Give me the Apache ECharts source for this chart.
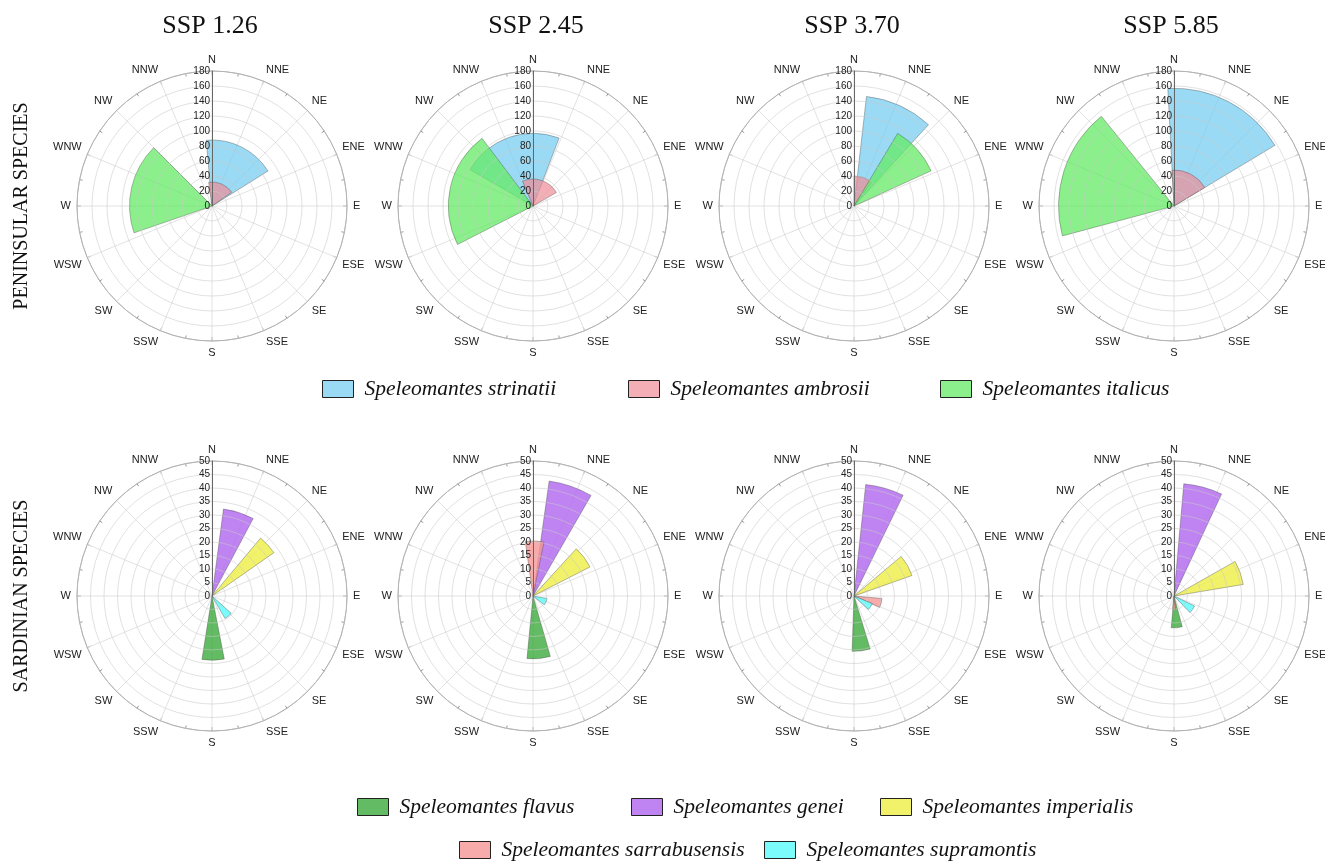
<!DOCTYPE html>
<html>
<head>
<meta charset="utf-8">
<script src="https://cdn.jsdelivr.net/npm/echarts@6/dist/echarts.min.js"></script>
<style>
html,body{margin:0;padding:0;background:#fff;}
#chart{width:1325px;height:862px;}
</style>
</head>
<body>
<div id="chart"></div>
<script>
// ---- data ----
const DIRS = ['N','NNE','NE','ENE','E','ESE','SE','SSE','S','SSW','SW','WSW','W','WNW','NW','NNW'];
const SCENARIOS = ['SSP 1.26','SSP 2.45','SSP 3.70','SSP 5.85'];
const ROW_LABELS = ['PENINSULAR SPECIES','SARDINIAN SPECIES'];
const PEN_SPECIES = ['Speleomantes strinatii','Speleomantes ambrosii','Speleomantes italicus'];
const SAR_SPECIES = ['Speleomantes flavus','Speleomantes genei','Speleomantes imperialis','Speleomantes sarrabusensis','Speleomantes supramontis'];
const PEN_RADIUS_MAX = 180, PEN_RADIUS_STEP = 20;
const SAR_RADIUS_MAX = 50, SAR_RADIUS_STEP = 5;
// each sector: [radius, start bearing (deg), end bearing (deg)], one per scenario
const strinatii     = [[88,355,58],[97,300,21],[147,6.5,42.5],[157,357,59]];
const ambrosii      = [[32,352,55],[36,337,60],[40,0,36],[48,357,59]];
const italicus      = [[110,251,315],[113,243,323],[113,31,65.5],[154,255,321]];
const flavus        = [[23.8,169,189],[23.3,164,185.5],[20.5,163,182],[11.8,165,185]];
const genei         = [[32.5,7.5,28],[43,8,30],[41.5,6,26],[41.7,5,25]];
const imperialis    = [[28,40,55],[23.7,42.5,63],[22.8,50,70.5],[26,60.5,80.5]];
const sarrabusensis = [null,[20.4,352,11.5],[10.4,95,114],[5,174,186]];
const supramontis   = [[9.6,132,150],[5.3,100,128],[7.3,112,133],[8.5,116,136]];

const PEN_DATA = [strinatii, ambrosii, italicus];
const SAR_DATA = [flavus, genei, imperialis, sarrabusensis, supramontis];
const PEN_COLORS = ['rgba(120,205,240,0.75)','rgba(240,140,150,0.7)','rgba(100,235,100,0.75)'];
const SAR_COLORS = ['rgba(60,170,60,0.8)','rgba(180,110,240,0.85)','rgba(240,240,80,0.85)','rgba(245,150,150,0.8)','rgba(100,250,250,0.85)'];

// ---- layout ----
const CX = [212, 533, 854, 1174];
const CY = [206, 596];
const R = 135;
const TITLE_X = [210, 536, 852, 1171];
// legend item placements [left, top] in the order of PEN_SPECIES then SAR_SPECIES
const PEN_LEGEND_POS = [[322,378],[628,378],[940,378]];
const SAR_LEGEND_POS = [[357,796],[631,796],[880,796],[459,839],[764,839]];

const chart = echarts.init(document.getElementById('chart'), null, {renderer:'canvas'});

function renderSector(params, api) {
  const r = api.value(0), a0 = api.value(1), a1 = api.value(2);
  const cx = params.coordSys.cx, cy = params.coordSys.cy;
  const p0 = api.coord([r, a0]);
  const p1 = api.coord([r, a1]);
  const rr = Math.hypot(p0[0]-cx, p0[1]-cy);
  let s = Math.atan2(p0[1]-cy, p0[0]-cx);
  let e = Math.atan2(p1[1]-cy, p1[0]-cx);
  if (e <= s) e += Math.PI*2;
  return {
    type:'sector',
    shape:{cx:cx, cy:cy, r0:0, r:rr, startAngle:s, endAngle:e, clockwise:true},
    style: api.style()
  };
}

const polar = [], angleAxis = [], radiusAxis = [], series = [], title = [];
const labelFont = 'Liberation Sans, Arial, sans-serif';
let pi = 0;
for (let row = 0; row < 2; row++) {
  for (let c = 0; c < 4; c++) {
    polar.push({center:[CX[c], CY[row]], radius:R});
    angleAxis.push({
      polarIndex: pi, type:'value', min:0, max:360, interval:22.5, startAngle:90, clockwise:true, z:0,
      axisLine:{show:true, lineStyle:{color:'#9a9a9a', width:1}},
      axisTick:{show:true, inside:true, length:4, lineStyle:{color:'#9a9a9a'}},
      minorTick:{show:true, splitNumber:2, length:3, lineStyle:{color:'#9a9a9a'}},
      splitLine:{show:true, lineStyle:{color:'#e2e2e2', width:1}},
      axisLabel:{
        show:true, margin:6, fontSize:11, color:'#222', fontFamily:labelFont,
        formatter: function(v){ const i = Math.round(v/22.5); return i >= 16 ? '' : DIRS[i]; }
      }
    });
    const max = row === 0 ? PEN_RADIUS_MAX : SAR_RADIUS_MAX;
    const step = row === 0 ? PEN_RADIUS_STEP : SAR_RADIUS_STEP;
    radiusAxis.push({
      polarIndex: pi, type:'value', min:0, max:max, interval:step, z:5,
      axisLine:{show:true, lineStyle:{color:'#666', width:1}},
      axisTick:{show:false},
      splitLine:{show:true, lineStyle:{color:'rgba(200,200,200,0.55)', width:1}},
      axisLabel:{show:true, fontSize:10, color:'#222', fontFamily:labelFont, margin:2}
    });
    const names = row === 0 ? PEN_SPECIES : SAR_SPECIES;
    const datas = row === 0 ? PEN_DATA : SAR_DATA;
    const colors = row === 0 ? PEN_COLORS : SAR_COLORS;
    names.forEach(function(name, k){
      const d = datas[k][c];
      series.push({
        type:'custom', name:name, coordinateSystem:'polar', polarIndex:pi,
        data: d ? [d] : [],
        renderItem: renderSector,
        itemStyle:{color:colors[k], borderColor:'rgba(70,70,70,0.55)', borderWidth:0.7},
        silent:true, z:2
      });
    });
    pi++;
  }
}
SCENARIOS.forEach(function(t, c){
  title.push({text:t, left:TITLE_X[c], top:13, textAlign:'center', padding:0,
    textStyle:{fontFamily:'Liberation Serif, Times New Roman, serif', fontSize:26, fontWeight:'normal', color:'#111'}});
});

const legendText = {fontFamily:'Liberation Serif, Times New Roman, serif', fontStyle:'italic', fontSize:21.5, color:'#111', padding:[0,0,0,6]};
function legendItem(name, pos){
  return {orient:'horizontal', icon:'rect', itemWidth:31, itemHeight:17, selectedMode:false, padding:0,
    itemStyle:{borderColor:'#222', borderWidth:1}, textStyle:legendText,
    data:[name], left:pos[0], top:pos[1]};
}
const legends = [];
PEN_SPECIES.forEach(function(n,i){ legends.push(legendItem(n, PEN_LEGEND_POS[i])); });
SAR_SPECIES.forEach(function(n,i){ legends.push(legendItem(n, SAR_LEGEND_POS[i])); });

const option = {
  animation:false,
  title: title,
  polar: polar,
  angleAxis: angleAxis,
  radiusAxis: radiusAxis,
  legend: legends,
  graphic: ROW_LABELS.map(function(t, i){
    return {type:'text', x:22, y:CY[i], rotation:Math.PI/2,
      style:{text:t, fill:'#111', font:'20px "Liberation Serif", "Times New Roman", serif', textAlign:'center', textVerticalAlign:'middle'}};
  }),
  series: series
};
chart.setOption(option);
</script>
</body>
</html>
